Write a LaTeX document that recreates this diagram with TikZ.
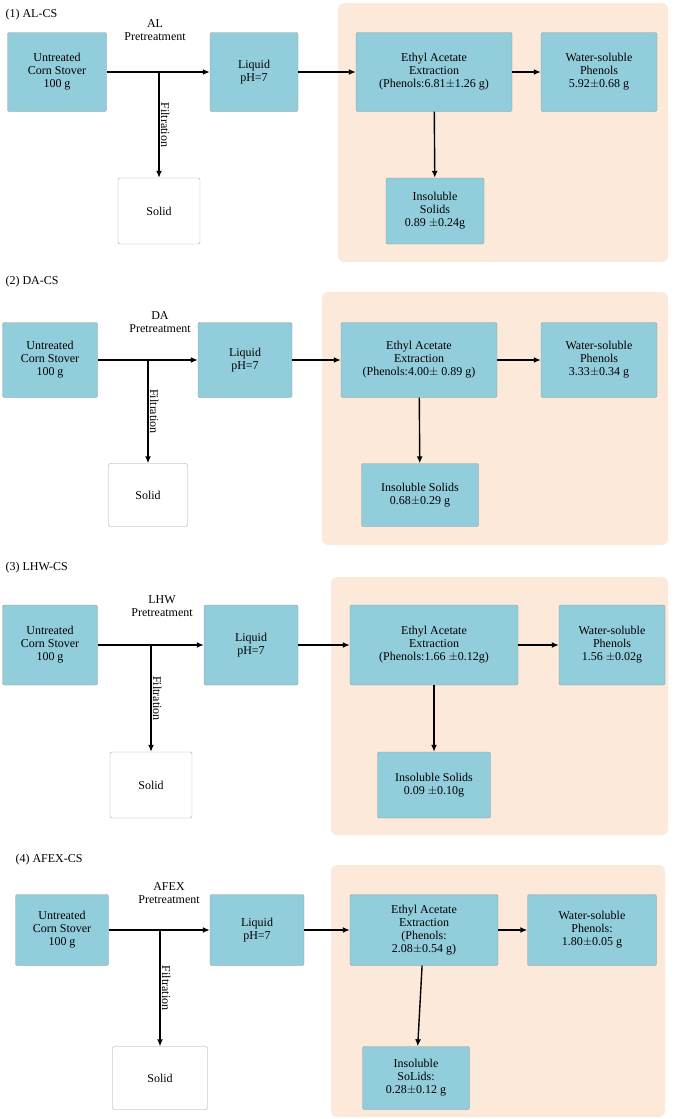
\documentclass[tikz,border=0pt]{standalone}
\usepackage{fontspec}
\setmainfont{Liberation Serif}
\usetikzlibrary{arrows.meta}
\definecolor{boxblue}{HTML}{92CDDC}
\definecolor{peach}{HTML}{FCE9DA}
\tikzset{
  stage/.style={draw=gray!80,fill=boxblue,rounded corners=2pt,align=center,font=\fontsize{12}{13}\selectfont,inner sep=1pt},
  solid box/.style={draw=gray!70,fill=white,rounded corners=2pt,align=center,font=\fontsize{12}{13}\selectfont},
  flow/.style={-{Latex[length=7pt,width=6pt]},line width=1.4pt},
  lbl/.style={align=center,font=\fontsize{12}{13}\selectfont},
  zone/.style={fill=peach,draw=none,rounded corners=6pt}
}
\begin{document}
\begin{tikzpicture}[x=1pt,y=-1pt]
  \useasboundingbox (0,0) rectangle (685,1119);
  % (1) AL-CS
  \fill[zone] (338,3) rectangle (668,262);
  \node[lbl,anchor=west] (t1) at (2,15) {(1) AL-CS};
  \node[stage,minimum width=99,minimum height=79] (raw1) at (57,72) {Untreated\\Corn Stover\\100 g};
  \node[stage,minimum width=88,minimum height=79] (liq1) at (254,72) {Liquid\\pH=7};
  \node[stage,minimum width=156,minimum height=79] (eth1) at (434,72) {Ethyl Acetate\\Extraction\\(Phenols:6.81$\pm$1.26 g)};
  \node[stage,minimum width=116,minimum height=79] (wat1) at (599,72) {Water-soluble\\Phenols\\5.92$\pm$0.68 g};
  \node[stage,minimum width=98,minimum height=66] (ins1) at (435,211) {Insoluble\\Solids\\0.89 $\pm$0.24g};
  \node[solid box,minimum width=82,minimum height=66] (sol1) at (159,211) {Solid};
  \node[lbl] (pre1) at (155,30) {AL\\Pretreatment};
  \coordinate (j1) at (sol1.north |- raw1.east);
  \draw[flow] (raw1) -- (liq1);
  \draw[flow] (j1) -- node[lbl,rotate=-90,anchor=south,yshift=-2pt] {Filtration} (sol1);
  \draw[flow] (liq1) -- (eth1);
  \draw[flow] (eth1) -- (wat1);
  \draw[flow] (eth1) -- (ins1);
  % (2) DA-CS
  \fill[zone] (322,292) rectangle (668,545);
  \node[lbl,anchor=west] (t2) at (2,282) {(2) DA-CS};
  \node[stage,minimum width=95,minimum height=75] (raw2) at (50,360) {Untreated\\Corn Stover\\100 g};
  \node[stage,minimum width=94,minimum height=75] (liq2) at (245,360) {Liquid\\pH=7};
  \node[stage,minimum width=156,minimum height=75] (eth2) at (419,360) {Ethyl Acetate\\Extraction\\(Phenols:4.00$\pm$ 0.89 g)};
  \node[stage,minimum width=116,minimum height=75] (wat2) at (599,360) {Water-soluble\\Phenols\\3.33$\pm$0.34 g};
  \node[stage,minimum width=117,minimum height=63] (ins2) at (420,495) {Insoluble Solids\\0.68$\pm$0.29 g};
  \node[solid box,minimum width=79,minimum height=63] (sol2) at (148,495) {Solid};
  \node[lbl] (pre2) at (160,322) {DA\\Pretreatment};
  \coordinate (j2) at (sol2.north |- raw2.east);
  \draw[flow] (raw2) -- (liq2);
  \draw[flow] (j2) -- node[lbl,rotate=-90,anchor=south,yshift=-2pt] {Filtration} (sol2);
  \draw[flow] (liq2) -- (eth2);
  \draw[flow] (eth2) -- (wat2);
  \draw[flow] (eth2) -- (ins2);
  % (3) LHW-CS
  \fill[zone] (331,577) rectangle (668,835);
  \node[lbl,anchor=west] (t3) at (2,568) {(3) LHW-CS};
  \node[stage,minimum width=95,minimum height=80] (raw3) at (50,645) {Untreated\\Corn Stover\\100 g};
  \node[stage,minimum width=94,minimum height=80] (liq3) at (251,645) {Liquid\\pH=7};
  \node[stage,minimum width=168,minimum height=80] (eth3) at (434,645) {Ethyl Acetate\\Extraction\\(Phenols:1.66 $\pm$0.12g)};
  \node[stage,minimum width=106,minimum height=80] (wat3) at (612,645) {Water-soluble\\Phenols\\1.56 $\pm$0.02g};
  \node[stage,minimum width=113,minimum height=66] (ins3) at (434,785) {Insoluble Solids\\0.09 $\pm$0.10g};
  \node[solid box,minimum width=82,minimum height=66] (sol3) at (151,785) {Solid};
  \node[lbl] (pre3) at (162,606) {LHW\\Pretreatment};
  \coordinate (j3) at (sol3.north |- raw3.east);
  \draw[flow] (raw3) -- (liq3);
  \draw[flow] (j3) -- node[lbl,rotate=-90,anchor=south,yshift=-2pt] {Filtration} (sol3);
  \draw[flow] (liq3) -- (eth3);
  \draw[flow] (eth3) -- (wat3);
  \draw[flow] (eth3) -- (ins3);
  % (4) AFEX-CS
  \fill[zone] (331,865) rectangle (665,1117);
  \node[lbl,anchor=west] (t4) at (12,860) {(4) AFEX-CS};
  \node[stage,minimum width=93,minimum height=71] (raw4) at (62,930) {Untreated\\Corn Stover\\100 g};
  \node[stage,minimum width=94,minimum height=71] (liq4) at (257,930) {Liquid\\pH=7};
  \node[stage,minimum width=148,minimum height=71] (eth4) at (424,930) {Ethyl Acetate\\Extraction\\(Phenols:\\2.08$\pm$0.54 g)};
  \node[stage,minimum width=129,minimum height=71] (wat4) at (592,930) {Water-soluble\\Phenols:\ \\1.80$\pm$0.05 g};
  \node[stage,minimum width=107,minimum height=63] (ins4) at (416,1078) {Insoluble\\SoLids:\ \\0.28$\pm$0.12 g};
  \node[solid box,minimum width=95,minimum height=63] (sol4) at (160,1078) {Solid};
  \node[lbl] (pre4) at (169,893) {AFEX\\Pretreatment};
  \coordinate (j4) at (sol4.north |- raw4.east);
  \draw[flow] (raw4) -- (liq4);
  \draw[flow] (j4) -- node[lbl,rotate=-90,anchor=south,yshift=-2pt] {Filtration} (sol4);
  \draw[flow] (liq4) -- (eth4);
  \draw[flow] (eth4) -- (wat4);
  \draw[flow] (eth4) -- (ins4);
\end{tikzpicture}
\end{document}
